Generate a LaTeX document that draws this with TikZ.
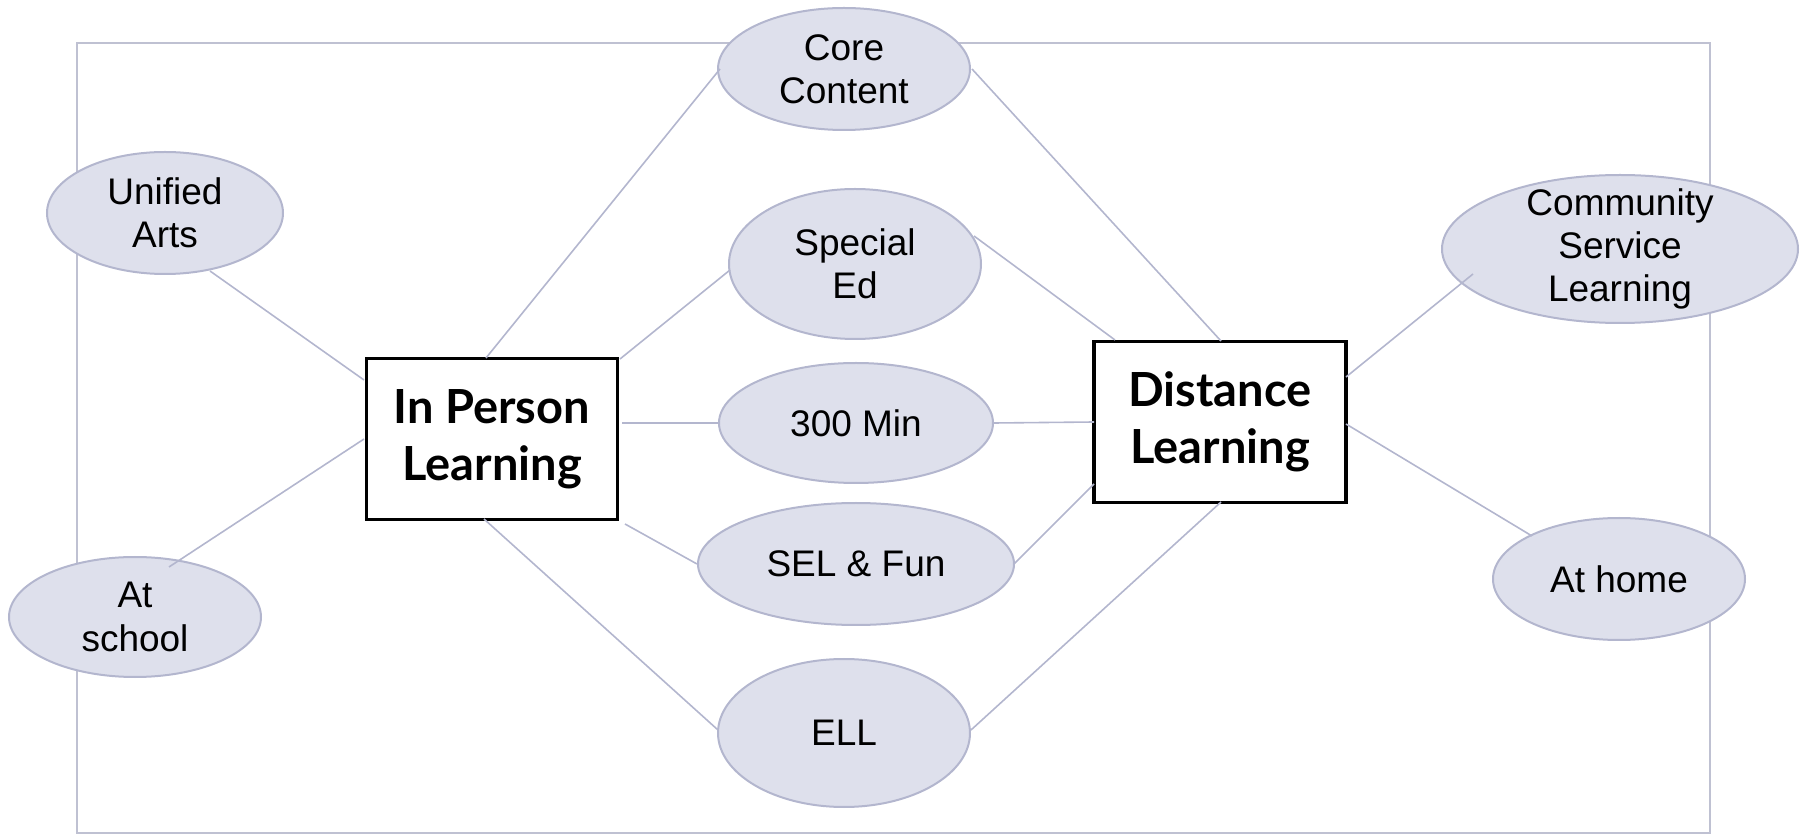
\documentclass[tikz,border=0pt]{standalone}
\usepackage{fontspec}
\setmainfont{Liberation Sans}
\newfontfamily\boxfont{Lato}
\usetikzlibrary{shapes.geometric,calc}
\definecolor{ellfill}{HTML}{DEE0EC}
\definecolor{elldraw}{HTML}{B3B6CE}
\definecolor{linec}{HTML}{B3B6CE}
\definecolor{framec}{HTML}{BFC1D2}
\tikzset{
  bubble/.style={ellipse, fill=ellfill, draw=elldraw, line width=1pt, inner sep=0pt,
    align=center, font=\fontsize{18.5}{21.7}\selectfont},
  hub/.style={rectangle, fill=white, draw=black, line width=1.8pt, inner sep=0pt,
    align=center, font=\boxfont\bfseries\fontsize{23.5}{28.5}\selectfont},
  link/.style={draw=linec, line width=0.8pt}
}
\begin{document}
\begin{tikzpicture}[x=0.5pt,y=-0.5pt]
\useasboundingbox (0,0) rectangle (1806,839);
\draw[framec, line width=0.8pt] (77,43) rectangle (1710,833);
\node[bubble, minimum width=126pt, minimum height=61pt] (cc) at (844,69) {Core\\Content};
\node[bubble, minimum width=118pt, minimum height=61pt] (ua) at (165,213) {Unified\\Arts};
\node[bubble, minimum width=126pt, minimum height=75pt] (se) at (855,264) {Special\\Ed};
\node[bubble, minimum width=137pt, minimum height=60pt] (mn) at (856,423) {300 Min};
\node[bubble, minimum width=158pt, minimum height=61pt] (sel) at (856,564) {SEL \& Fun};
\node[bubble, minimum width=126pt, minimum height=74pt] (ell) at (844,733) {ELL};
\node[bubble, minimum width=126pt, minimum height=60pt] (as) at (135,617) {At\\school};
\node[bubble, inner ysep=-4.5pt, inner xsep=-2pt, minimum width=178pt, minimum height=74pt] (csl) at (1620,249) {Community\\Service\\Learning};
\node[bubble, minimum width=126pt, minimum height=61pt] (ah) at (1619,579) {At home};
\node[hub, minimum width=125.5pt, minimum height=80.5pt] (ip) at (492,439) {In Person\\Learning};
\node[hub, minimum width=126pt, minimum height=80.5pt] (dl) at (1220,422) {Distance\\Learning};

\draw[link] ($(ua)+(45,58)$) -- ($(ip)+(-128,-59)$);
\draw[link] ($(as)+(34,-50)$) -- ($(ip)+(-128,0)$);
\draw[link] ($(ip)+(-6,-81)$) -- ($(cc)+(-124,0)$);
\draw[link] ($(cc)+(128,0)$) -- ($(dl)+(1,-81)$);
\draw[link] ($(ip)+(128,-80)$) -- ($(se)+(-125,6)$);
\draw[link] ($(se)+(119,-28)$) -- ($(dl)+(-105,-82)$);
\draw[link] ($(ip)+(130,-16)$) -- ($(mn)+(-137,0)$);
\draw[link] ($(mn)+(138,0)$) -- ($(dl)+(-126,0)$);
\draw[link] ($(ip)+(133,85)$) -- ($(sel)+(-159,0)$);
\draw[link] ($(sel)+(158,0)$) -- ($(dl)+(-126,62)$);
\draw[link] ($(ip)+(-8,80)$) -- ($(ell)+(-126,-3)$);
\draw[link] ($(ell)+(127,-3)$) -- ($(dl)+(1,80)$);
\draw[link] ($(dl)+(126,-45)$) -- ($(csl)+(-147,25)$);
\draw[link] ($(dl)+(126,2)$) -- ($(ah)+(-87,-43)$);
\end{tikzpicture}
\end{document}
